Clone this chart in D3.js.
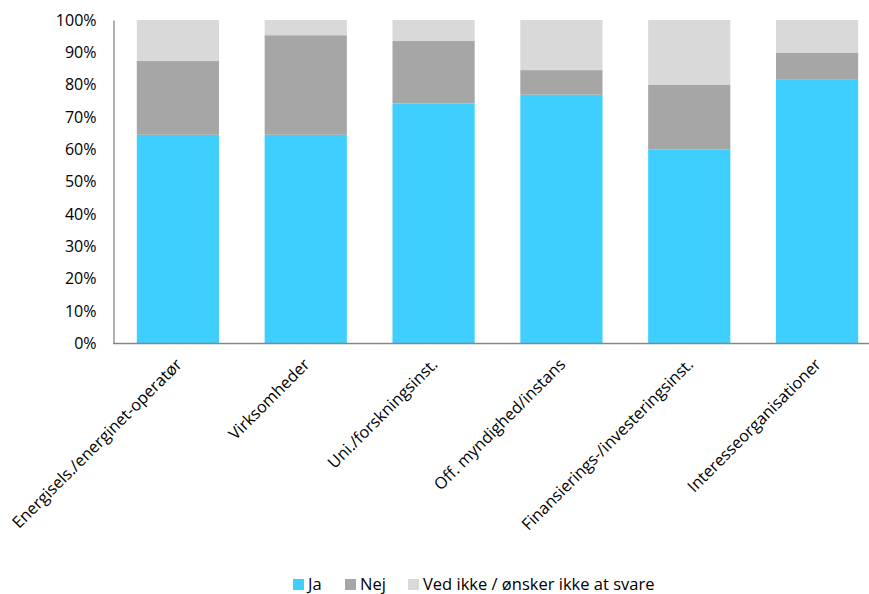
<!DOCTYPE html>
<html>
<head>
<meta charset="utf-8">
<script src="https://cdn.jsdelivr.net/npm/d3@7"></script>
<style>
  html, body { margin: 0; padding: 0; background: #fff; }
  svg { display: block; }
  text { font-family: "Open Sans", sans-serif; fill: #000; }
</style>
</head>
<body>
<svg id="chart" width="869" height="594"></svg>
<script>
const categories = ["Energisels./energinet-operatør", "Virksomheder", "Uni./forskningsinst.", "Off. myndighed/instans", "Finansierings-/investeringsinst.", "Interesseorganisationer"];
const seriesNames = ["Ja", "Nej", "Ved ikke / ønsker ikke at svare"];
const ja = [64.5, 64.5, 74.2, 76.9, 60.0, 81.7];
const nej = [22.8, 30.8, 19.3, 7.6, 19.9, 8.1];
const vedIkke = [12.7, 4.7, 6.5, 15.5, 20.1, 10.2];
const yTicks = [0, 10, 20, 30, 40, 50, 60, 70, 80, 90, 100];
const colors = ["#3FCFFF", "#A6A6A6", "#D9D9D9"];

const svg = d3.select("#chart");
const x = d3.scaleBand().domain(categories).range([114, 881]).paddingInner(0.357).paddingOuter(0.1785);
const y = d3.scaleLinear().domain([0, 100]).range([343.3, 20]);

const data = categories.map((c, i) => ({ cat: c, Ja: ja[i], Nej: nej[i], Ved: vedIkke[i] }));
const stack = d3.stack().keys(["Ja", "Nej", "Ved"]);
const layers = stack(data);

svg.append("g").selectAll("g").data(layers).join("g")
  .attr("fill", (d, i) => colors[i])
  .selectAll("rect").data(d => d).join("rect")
  .attr("x", d => x(d.data.cat))
  .attr("width", x.bandwidth())
  .attr("y", d => y(d[1]))
  .attr("height", d => y(d[0]) - y(d[1]));

// y axis
const yAxis = svg.append("g").attr("transform", "translate(113.5,0)")
  .call(d3.axisLeft(y).tickValues(yTicks).tickFormat(d => d + "%").tickSize(0).tickPadding(17));
yAxis.select(".domain").attr("stroke", "#868686").attr("stroke-width", 1.3);
yAxis.selectAll("text").attr("font-size", "16px").attr("font-family", "'Open Sans', sans-serif").attr("fill", "#000");

// x axis
const xAxis = svg.append("g").attr("transform", "translate(0,343.5)")
  .call(d3.axisBottom(x).tickSize(0).tickPadding(0));
xAxis.select(".domain").attr("stroke", "#868686").attr("stroke-width", 1.3).attr("d", "M113,0H869");
xAxis.selectAll(".tick text")
  .attr("font-size", "16.3px")
  .attr("font-family", "'Open Sans', sans-serif")
  .attr("fill", "#000")
  .attr("text-anchor", "end")
  .attr("dy", "0")
  .attr("transform", "translate(5,22) rotate(-45)");

// legend
const legendItems = [
  { name: seriesNames[0], x: 293 },
  { name: seriesNames[1], x: 345 },
  { name: seriesNames[2], x: 408 }
];
const lg = svg.append("g");
legendItems.forEach((it, i) => {
  lg.append("rect").attr("x", it.x).attr("y", 579).attr("width", 11).attr("height", 11).attr("fill", colors[i]);
  lg.append("text").attr("x", it.x + 15).attr("y", 590).attr("font-size", "16.5px").text(it.name);
});
</script>
</body>
</html>
